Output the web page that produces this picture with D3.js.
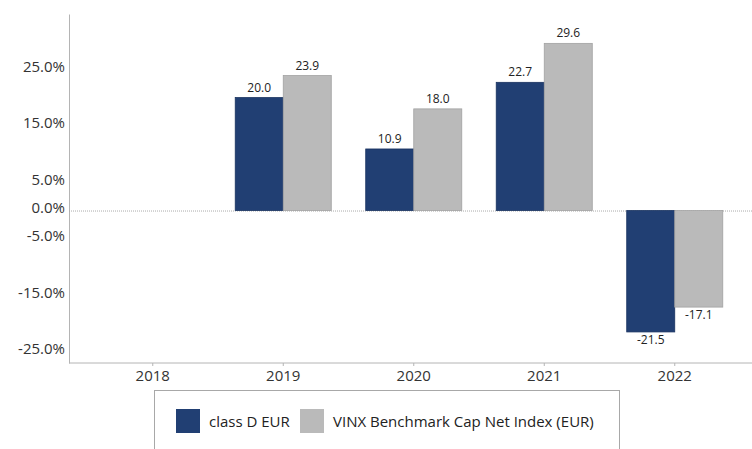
<!DOCTYPE html>
<html>
<head>
<meta charset="utf-8">
<script src="https://cdn.jsdelivr.net/npm/d3@7"></script>
<style>
  body { margin: 0; background: #fff; }
  svg { display: block; font-family: "Open Sans", sans-serif; }
</style>
</head>
<body>
<div id="chart"></div>
<script>
// values
const years = ['2018', '2019', '2020', '2021', '2022']
const classD = [null, 20.0, 10.9, 22.7, -21.5]
const vinx = [null, 23.9, 18.0, 29.6, -17.1]
const yTicks = [25, 15, 5, 0, -5, -15, -25]
const seriesNames = ['class D EUR', 'VINX Benchmark Cap Net Index (EUR)']
const seriesColors = ['#213f73', '#bababa']
const seriesStrokes = ['#1a3360', '#a2a2a2']

const width = 752, height = 449
const axisLeftX = 69, axisRightX = 752
const plotTop = 14, plotBottom = 363

const svg = d3.select('#chart').append('svg').attr('width', width).attr('height', height)

const y = d3.scaleLinear().domain([-27, 34.8]).range([plotBottom, plotTop])
const x = d3.scaleBand().domain(years).range([87.5, 740]).paddingInner(0.264).paddingOuter(0.132)
const xSub = d3.scaleBand().domain([0, 1]).range([0, x.bandwidth()])

// y axis
const yAxis = d3.axisLeft(y).tickValues(yTicks).tickSize(0).tickPadding(4)
    .tickFormat(d => d.toFixed(1) + '%')
const gy = svg.append('g').attr('transform', 'translate(' + axisLeftX + ',0)').call(yAxis)
gy.select('.domain').attr('stroke', '#b4b4b4')
gy.selectAll('text').attr('font-size', 15).attr('fill', '#333').attr('dy', '0.12em')
    .style('font-family', '"Open Sans", sans-serif')

// bottom line + year labels
svg.append('line').attr('x1', axisLeftX).attr('x2', axisRightX)
    .attr('y1', plotBottom).attr('y2', plotBottom).attr('stroke', '#b4b4b4')
const xAxis = d3.axisBottom(x).tickSize(3).tickPadding(4)
const gx = svg.append('g').attr('transform', 'translate(0,' + plotBottom + ')').call(xAxis)
gx.select('.domain').remove()
gx.selectAll('line').attr('stroke', '#b4b4b4')
gx.selectAll('text').attr('font-size', 15).attr('fill', '#333')
    .style('font-family', '"Open Sans", sans-serif')

// zero line
svg.append('line').attr('x1', axisLeftX).attr('x2', axisRightX)
    .attr('y1', y(0) + 0.5).attr('y2', y(0) + 0.5)
    .attr('stroke', '#aaa').attr('stroke-dasharray', '1,1')

// bars
const series = [classD, vinx]
series.forEach((vals, s) => {
    years.forEach((yr, i) => {
        const v = vals[i]
        if (v === null) return
        const bx = x(yr) + xSub(s)
        const y0 = y(Math.max(0, v)), y1 = y(Math.min(0, v))
        svg.append('rect').attr('x', bx).attr('y', y0)
            .attr('width', xSub.bandwidth()).attr('height', y1 - y0)
            .attr('fill', seriesColors[s]).attr('stroke', seriesStrokes[s]).attr('stroke-width', 0.8)
        svg.append('text').attr('x', bx + xSub.bandwidth() / 2)
            .attr('y', v >= 0 ? y0 - 6 : y1 + 12)
            .attr('text-anchor', 'middle').attr('font-size', 12).attr('fill', '#222')
            .text(v.toFixed(1))
    })
})

// legend
svg.append('rect').attr('x', 154.5).attr('y', 390.5).attr('width', 465).attr('height', 70)
    .attr('fill', 'none').attr('stroke', '#a8a8a8')
const legendX = [176, 300]
seriesNames.forEach((name, s) => {
    svg.append('rect').attr('x', legendX[s]).attr('y', 409).attr('width', 24).attr('height', 24)
        .attr('fill', seriesColors[s])
    svg.append('text').attr('x', legendX[s] + 33).attr('y', 426.5)
        .attr('font-size', 15).attr('fill', '#222').text(name)
})
</script>
</body>
</html>
